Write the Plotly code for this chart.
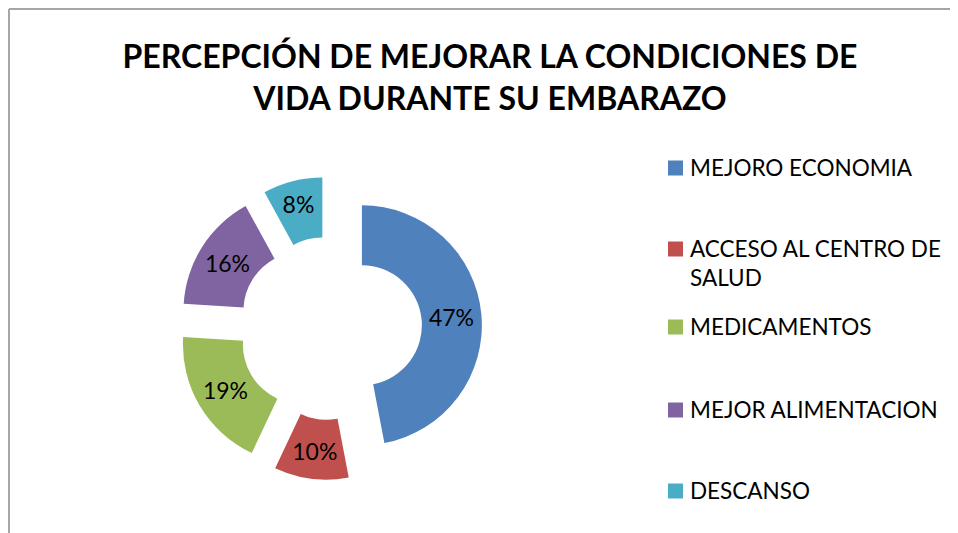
import textwrap
import plotly.graph_objects as go

# the page body has an 8px margin, so the figure is drawn 8px in from the corner
OFF = 8
W, H = 958 - OFF, 533 - OFF

title_text = "PERCEPCIÓN DE MEJORAR LA CONDICIONES DE<br>VIDA DURANTE SU EMBARAZO"
categories = ["MEJORO ECONOMIA", "ACCESO AL CENTRO DE SALUD", "MEDICAMENTOS",
              "MEJOR ALIMENTACION", "DESCANSO"]
percentages = [47, 10, 19, 16, 8]
colors = ["#4F81BD", "#C0504D", "#9BBB59", "#8064A2", "#4BACC6"]

FONT = "Lato"


def px_x(x):
    # screen pixel -> paper fraction
    return (x - OFF) / W


def px_y(y):
    return 1 - (y - OFF) / H


fig = go.Figure()

# exploded donut, box centred on (330, 328) px
fig.add_trace(go.Pie(
    labels=categories,
    values=percentages,
    marker=dict(colors=colors, line=dict(width=0)),
    hole=0.5,
    pull=[0.265] * len(percentages),
    sort=False,
    direction="clockwise",
    rotation=0,
    texttemplate="%{percent:.0%}",
    textposition="inside",
    insidetextorientation="horizontal",
    textfont=dict(family=FONT, size=23, color="black"),
    domain=dict(x=[px_x(178.5), px_x(482)], y=[px_y(480), px_y(176.5)]),
    showlegend=False,
    hoverinfo="label+percent",
))

# legend drawn by hand (Excel spaces the entries much wider than plotly does)
legend_y = [168, 249, 327, 410, 491]
shapes = []
annotations = []
for name, col, y in zip(categories, colors, legend_y):
    shapes.append(dict(type="rect", xref="paper", yref="paper",
                       x0=px_x(668), x1=px_x(683), y0=px_y(y + 7.5), y1=px_y(y - 7.5),
                       fillcolor=col, line=dict(width=0)))
    annotations.append(dict(text="<br>".join(textwrap.wrap(name, 19)),
                            xref="paper", yref="paper", x=px_x(688), y=px_y(y - 16),
                            xanchor="left", yanchor="top", align="left", showarrow=False,
                            font=dict(family=FONT, size=22.5, color="black")))

# chart area border (only top and left edges visible in the crop)
shapes.append(dict(type="line", xref="paper", yref="paper",
                   x0=px_x(9), x1=1, y0=px_y(9), y1=px_y(9),
                   line=dict(color="#A6A6A6", width=2)))
shapes.append(dict(type="line", xref="paper", yref="paper",
                   x0=px_x(9), x1=px_x(9), y0=px_y(9), y1=0,
                   line=dict(color="#A6A6A6", width=2)))

fig.update_layout(
    width=W, height=H,
    margin=dict(l=0, r=0, t=0, b=0),
    paper_bgcolor="white",
    plot_bgcolor="white",
    title=dict(text=title_text, x=px_x(490), xanchor="center",
               y=px_y(68), yanchor="middle",
               font=dict(family=FONT, size=32, color="black", weight="bold")),
    uniformtext=dict(minsize=23, mode="show"),
    shapes=shapes,
    annotations=annotations,
)

fig.write_html("out.html")
